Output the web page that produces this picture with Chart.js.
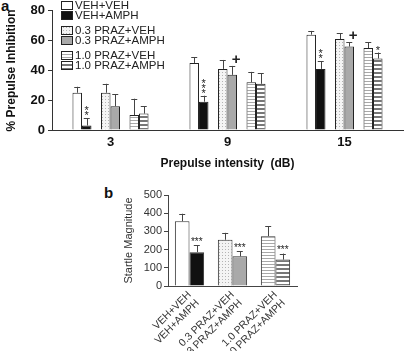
<!DOCTYPE html>
<html>
<head>
<meta charset="utf-8">
<script src="https://cdn.jsdelivr.net/npm/chart.js@4.4.0/dist/chart.umd.min.js"></script>
<style>
  body { margin: 0; background: #fff; width: 404px; height: 351px; overflow: hidden; position: relative; font-family: Arial, "Liberation Sans", sans-serif; }
  canvas { position: absolute; left: 0; }
  #chartA { top: 0; }
  #chartB { top: 180px; }
  .panel { position: absolute; font-weight: bold; font-size: 15px; color: #111; }
</style>
</head>
<body>
<div class="panel" style="left:1px;top:-3px">a</div>
<div class="panel" style="left:104px;top:184px">b</div>
<canvas id="chartA" width="404" height="175"></canvas>
<canvas id="chartB" width="404" height="171"></canvas>
<script>
// Panel a: % prepulse inhibition by prepulse intensity
const intensities = ['3', '9', '15'];
const groupNames = ['VEH+VEH', 'VEH+AMPH', '0.3 PRAZ+VEH', '0.3 PRAZ+AMPH', '1.0 PRAZ+VEH', '1.0 PRAZ+AMPH'];
const vehVeh = [25, 45, 64];
const vehAmph = [3, 19, 41];
const praz03Veh = [25, 41, 61];
const praz03Amph = [16, 37, 56];
const praz10Veh = [10, 32, 55];
const praz10Amph = [11, 31, 48];
const vehVehErr = [4, 4, 2.5];
const vehAmphErr = [5, 4, 5];
const praz03VehErr = [6, 6, 4];
const praz03AmphErr = [8, 6, 3];
const praz10VehErr = [11, 7, 4];
const praz10AmphErr = [5, 7, 4];
// significance marks above bars
const vehAmphMarks = ['**', '***', '**'];
const praz03AmphMarks = ['', '+', '+'];
const praz10AmphMarks = ['', '', '*'];
const ppiTicks = [0, 20, 40, 60, 80];

// Panel b: startle magnitude per group
const startleMean = [356, 186, 254, 163, 274, 145];
const startleErr = [41, 37, 38, 27, 53, 33];
const startleMarks = ['', '***', '', '***', '', '***'];
const startleTicks = [0, 100, 200, 300, 400, 500];

function makePattern(w, h, draw) {
  const c = document.createElement('canvas');
  c.width = w; c.height = h;
  const x = c.getContext('2d');
  draw(x);
  return x.createPattern(c, 'repeat');
}
const dotFill = makePattern(3, 3, x => {
  x.fillStyle = '#f4f4f4'; x.fillRect(0, 0, 3, 3);
  x.fillStyle = '#b4b4b4'; x.fillRect(0, 0, 1, 1);
});
const fineStripe = makePattern(4, 3, x => {
  x.fillStyle = '#fff'; x.fillRect(0, 0, 4, 3);
  x.fillStyle = '#a8a8a8'; x.fillRect(0, 0, 4, 1);
});
const boldStripe = makePattern(4, 4, x => {
  x.fillStyle = '#fff'; x.fillRect(0, 0, 4, 4);
  x.fillStyle = '#777'; x.fillRect(0, 0, 4, 2);
});
const fills = ['#ffffff', '#111111', dotFill, '#a9a9a9', fineStripe, boldStripe];

// draws upper error bars and the marks on top of them
const errorBars = {
  id: 'errorBars',
  afterDatasetsDraw(chart) {
    const ctx = chart.ctx;
    const y = chart.scales.y;
    chart.data.datasets.forEach((ds, i) => {
      if (!ds.errors) return;
      const meta = chart.getDatasetMeta(i);
      meta.data.forEach((bar, j) => {
        const v = ds.data[j];
        if (v == null) return;
        const top = y.getPixelForValue(v + ds.errors[j]);
        ctx.save();
        ctx.strokeStyle = '#444';
        ctx.lineWidth = 1;
        ctx.beginPath();
        ctx.moveTo(Math.round(bar.x) + 0.5, bar.y);
        ctx.lineTo(Math.round(bar.x) + 0.5, top);
        ctx.moveTo(bar.x - 3, Math.round(top) + 0.5);
        ctx.lineTo(bar.x + 3, Math.round(top) + 0.5);
        ctx.stroke();
        const m = ds.marks ? ds.marks[j] : '';
        if (m) {
          ctx.fillStyle = '#222';
          ctx.textAlign = 'center';
          ctx.textBaseline = 'middle';
          if (m === '+') {
            ctx.font = 'bold 15px Arial';
            ctx.fillText('+', bar.x + 4, top - 6);
          } else if (ds.stackMarks) {
            ctx.font = '11px Arial';
            for (let k = 0; k < m.length; k++) ctx.fillText('*', bar.x, top - 2 - k * 5);
          } else {
            ctx.font = '10px Arial';
            ctx.fillText(m, bar.x, top - 3);
          }
        }
        ctx.restore();
      });
    });
  }
};

const legendRows = [5, 15, 30, 40, 55, 65];
const customLegend = {
  id: 'customLegend',
  afterDraw(chart) {
    const ctx = chart.ctx;
    ctx.save();
    ctx.font = '11.5px Arial';
    ctx.textBaseline = 'middle';
    groupNames.forEach((name, i) => {
      const yy = legendRows[i];
      ctx.fillStyle = fills[i];
      ctx.fillRect(61, yy - 4, 12, 9);
      ctx.strokeStyle = '#222';
      ctx.strokeRect(61.5, yy - 3.5, 11, 8);
      ctx.fillStyle = '#222';
      ctx.fillText(name, 75, yy + 0.5);
    });
    ctx.restore();
  }
};

const ppiSeries = [vehVeh, vehAmph, null, praz03Veh, praz03Amph, null, praz10Veh, praz10Amph];
const ppiErrs = [vehVehErr, vehAmphErr, null, praz03VehErr, praz03AmphErr, null, praz10VehErr, praz10AmphErr];
const ppiMarks = [null, vehAmphMarks, null, null, praz03AmphMarks, null, null, praz10AmphMarks];
let g = 0;
const ppiDatasets = ppiSeries.map((s, i) => {
  const base = { categoryPercentage: 0.65, barPercentage: 1, borderWidth: 1, borderColor: '#222' };
  if (!s) return Object.assign(base, { label: '', data: [null, null, null], backgroundColor: 'transparent', borderWidth: 0 });
  const ds = Object.assign(base, {
    label: groupNames[g], data: s, errors: ppiErrs[i], marks: ppiMarks[i],
    stackMarks: true, backgroundColor: fills[g]
  });
  g++;
  return ds;
});

new Chart(document.getElementById('chartA'), {
  type: 'bar',
  data: { labels: intensities, datasets: ppiDatasets },
  options: {
    responsive: false,
    animation: false,
    layout: { padding: { top: 10, right: 1, left: 0, bottom: 0 } },
    plugins: { legend: { display: false }, tooltip: { enabled: false } },
    scales: {
      x: {
        grid: { drawOnChartArea: false, drawTicks: false },
        border: { color: '#333' },
        ticks: { color: '#111', font: { size: 13, weight: 'bold', family: 'Arial' }, padding: 5 },
        title: { display: true, text: 'Prepulse intensity  (dB)', color: '#111', font: { size: 12, weight: 'bold', family: 'Arial' }, padding: { top: 8 } },
        afterFit(s) { s.height = 45; }
      },
      y: {
        min: 0, max: 80,
        afterBuildTicks(s) { s.ticks = ppiTicks.map(v => ({ value: v })); },
        grid: { drawOnChartArea: false, tickLength: 4, color: '#333' },
        border: { color: '#333' },
        ticks: { color: '#111', font: { size: 13, weight: 'bold', family: 'Arial' }, padding: 3 },
        title: { display: true, text: '% Prepulse Inhibition', color: '#111', font: { size: 12, weight: 'bold', family: 'Arial' } },
        afterFit(s) { s.width = 52; }
      }
    }
  },
  plugins: [errorBars, customLegend]
});

// panel b: two datasets (VEH-type, AMPH-type), one category per treatment pair
const pairLabels = [0, 2, 4].map(i => [groupNames[i], groupNames[i + 1]]);
const startleDatasets = [0, 1].map(k => ({
  label: k ? 'AMPH' : 'VEH',
  data: [0, 2, 4].map(i => startleMean[i + k]),
  errors: [0, 2, 4].map(i => startleErr[i + k]),
  marks: [0, 2, 4].map(i => startleMarks[i + k]),
  backgroundColor: [0, 2, 4].map(i => fills[i + k]),
  borderColor: '#333', borderWidth: 1,
  categoryPercentage: 0.68, barPercentage: 1
}));

new Chart(document.getElementById('chartB'), {
  type: 'bar',
  data: { labels: pairLabels, datasets: startleDatasets },
  options: {
    responsive: false,
    animation: false,
    layout: { padding: { top: 15, right: 107, left: 118, bottom: 0 } },
    plugins: { legend: { display: false }, tooltip: { enabled: false } },
    scales: {
      x: {
        grid: { drawOnChartArea: false, drawTicks: false },
        border: { color: '#444' },
        ticks: { color: '#333', font: { size: 10.5, family: 'Arial', lineHeight: 1.1 }, maxRotation: 45, minRotation: 45, autoSkip: false, padding: 3 },
        afterFit(s) { s.height = 65; }
      },
      y: {
        min: 0, max: 500,
        afterBuildTicks(s) { s.ticks = startleTicks.map(v => ({ value: v })); },
        grid: { drawOnChartArea: false, tickLength: 4, color: '#444' },
        border: { color: '#444' },
        ticks: { color: '#333', font: { size: 11, family: 'Arial' }, padding: 2 },
        title: { display: true, text: 'Startle Magnitude', color: '#333', font: { size: 11, family: 'Arial' } },
        afterFit(s) { s.width = 50; }
      }
    }
  },
  plugins: [errorBars]
});
</script>
</body>
</html>
